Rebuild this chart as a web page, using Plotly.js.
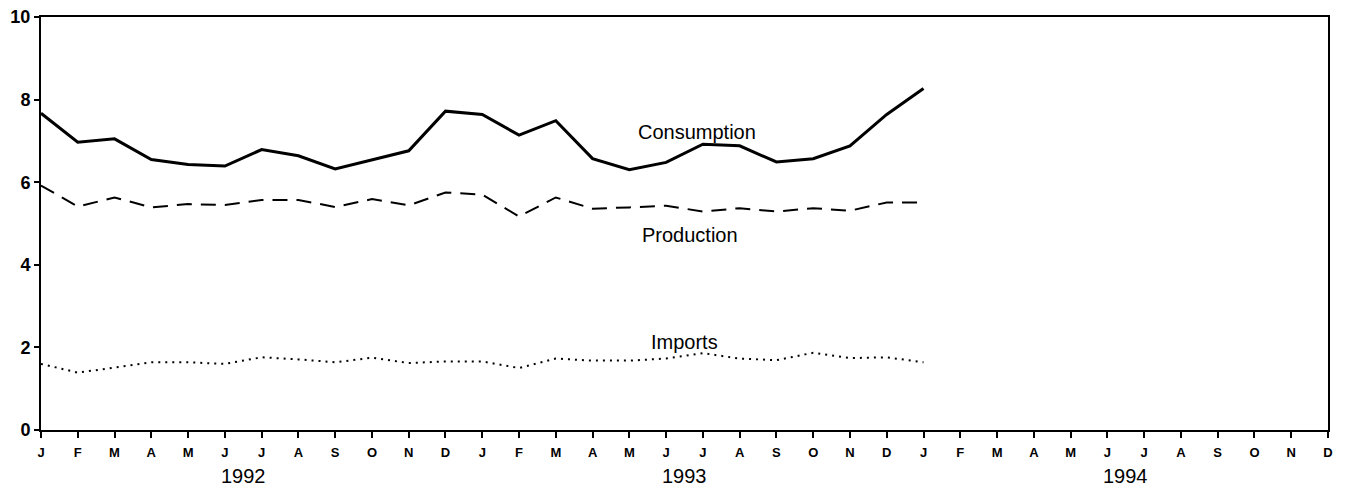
<!DOCTYPE html>
<html>
<head>
<meta charset="utf-8">
<script src="https://cdn.plot.ly/plotly-3.0.1.min.js"></script>
<style>html,body{margin:0;padding:0;background:#fff;}#chart{width:1345px;height:491px;}</style>
</head>
<body>
<div id="chart"></div>
<script>
// Month index 0 = Jan 1992 ... 35 = Dec 1994
var monthLetters = ["J","F","M","A","M","J","J","A","S","O","N","D"];
var years = ["1992","1993","1994"];
var dataMonths = [0,1,2,3,4,5,6,7,8,9,10,11,12,13,14,15,16,17,18,19,20,21,22,23,24];

var consumption = [7.67,6.97,7.05,6.55,6.43,6.39,6.79,6.64,6.32,6.54,6.76,7.72,
                   7.64,7.14,7.49,6.57,6.30,6.48,6.92,6.88,6.49,6.57,6.88,7.64,8.27];
var production  = [5.92,5.41,5.63,5.39,5.47,5.45,5.57,5.57,5.40,5.59,5.44,5.75,
                   5.70,5.17,5.63,5.36,5.39,5.43,5.29,5.37,5.29,5.37,5.31,5.51,5.51];
var imports     = [1.60,1.39,1.51,1.64,1.64,1.60,1.76,1.71,1.64,1.75,1.62,1.66,
                   1.66,1.50,1.73,1.68,1.68,1.73,1.86,1.73,1.69,1.87,1.74,1.76,1.64];

var seriesLabels = ["Consumption","Production","Imports"];
var labelX = [17.84, 17.65, 17.49];
var labelY = [7.22, 4.72, 2.14];

var tickVals = [], tickText = [];
for (var i = 0; i < 36; i++) { tickVals.push(i); tickText.push(monthLetters[i % 12]); }

var traces = [
  {x: dataMonths, y: consumption, type: 'scatter', mode: 'lines', name: 'Consumption',
   line: {color: '#000', width: 3}},
  {x: dataMonths, y: production, type: 'scatter', mode: 'lines', name: 'Production',
   line: {color: '#000', width: 2, dash: '15px,9px'}},
  {x: dataMonths, y: imports, type: 'scatter', mode: 'lines', name: 'Imports',
   line: {color: '#000', width: 2, dash: '2px,5px'}}
];

var annotations = [];
for (var s = 0; s < seriesLabels.length; s++) {
  annotations.push({x: labelX[s], y: labelY[s], xref: 'x', yref: 'y', text: seriesLabels[s],
    showarrow: false, font: {family: 'Liberation Sans, Arial, sans-serif', size: 20, color: '#000'}});
}
for (var yIdx = 0; yIdx < years.length; yIdx++) {
  annotations.push({x: yIdx * 12 + 5.5, y: 0, xref: 'x', yref: 'paper', text: years[yIdx],
    showarrow: false, yanchor: 'middle', yshift: -46,
    font: {family: 'Liberation Sans, Arial, sans-serif', size: 20, color: '#000'}});
}

var layout = {
  width: 1345, height: 491,
  margin: {l: 41, r: 17, t: 17, b: 61},
  paper_bgcolor: '#fff', plot_bgcolor: '#fff',
  showlegend: false,
  xaxis: {range: [0, 35], tickvals: tickVals, ticktext: tickText, showgrid: false, zeroline: false,
    showline: true, linecolor: '#000', linewidth: 2, mirror: true,
    ticks: 'outside', ticklen: 6, tickwidth: 2, tickcolor: '#000', ticklabelstandoff: 3,
    tickfont: {family: 'Liberation Sans, Arial, sans-serif', size: 13, color: '#000', weight: 'bold'}},
  yaxis: {range: [0, 10], tickvals: [0,2,4,6,8,10], showgrid: false, zeroline: false,
    showline: true, linecolor: '#000', linewidth: 2, mirror: true,
    ticks: 'outside', ticklen: 5, tickwidth: 2, tickcolor: '#000',
    tickfont: {family: 'Liberation Sans, Arial, sans-serif', size: 18, color: '#000', weight: 'bold'}},
  annotations: annotations
};

Plotly.newPlot('chart', traces, layout, {staticPlot: true, displayModeBar: false});
</script>
</body>
</html>
